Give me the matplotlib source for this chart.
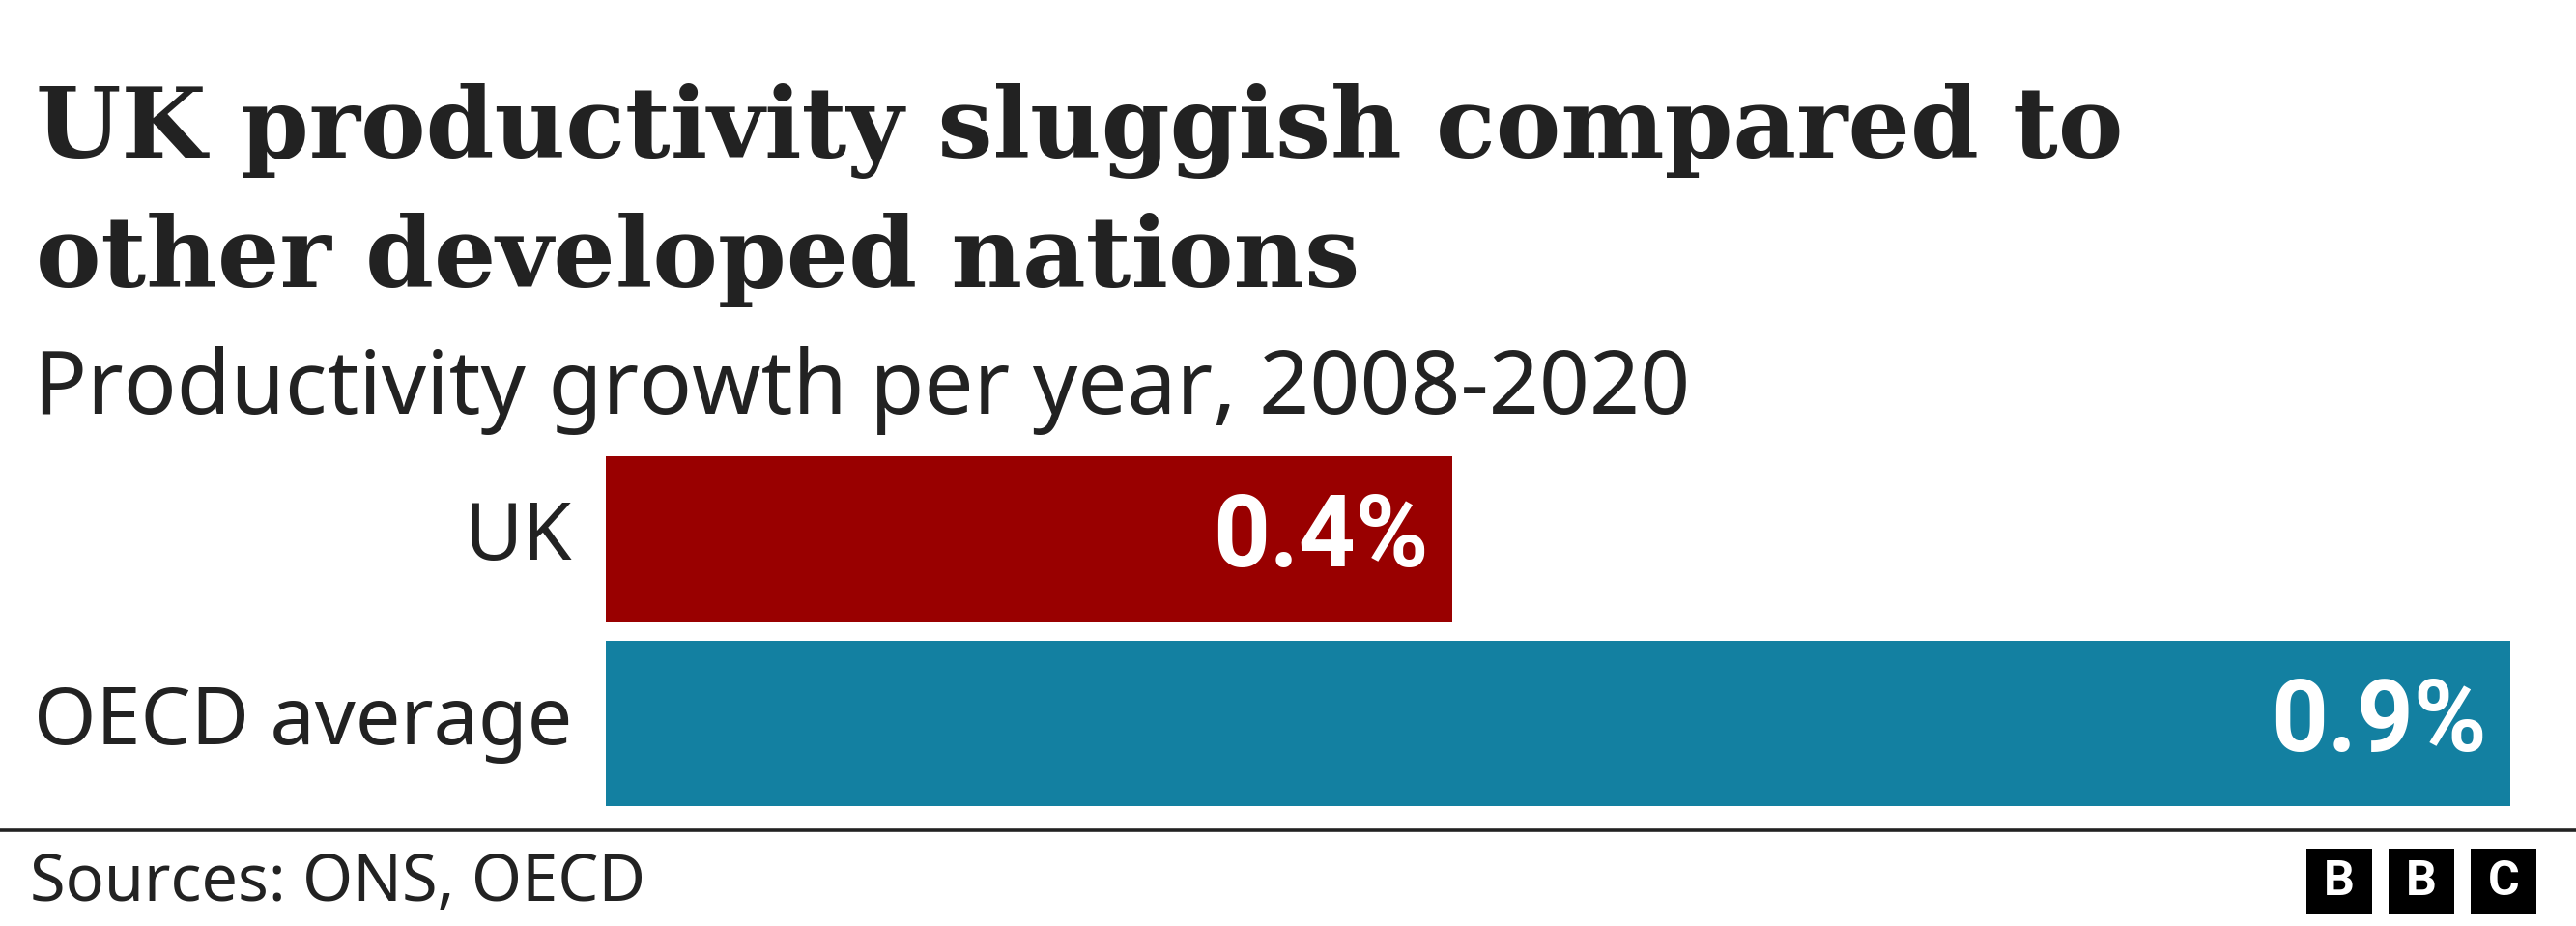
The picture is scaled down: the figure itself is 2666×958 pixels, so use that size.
import matplotlib
matplotlib.use("Agg")
import matplotlib.pyplot as plt
from matplotlib.patches import Rectangle
from matplotlib.lines import Line2D

# data
categories = ["UK", "OECD average"]
growth = [0.4, 0.9]
value_labels = ["0.4%", "0.9%"]
bar_colors = ["#990000", "#1380a1"]

title_lines = ["UK productivity sluggish compared to", "other developed nations"]
subtitle = "Productivity growth per year, 2008-2020"
source = "Sources: ONS, OECD"

W, H = 2666, 958
fig = plt.figure(figsize=(W / 100, H / 100), dpi=100)
fig.patch.set_facecolor("white")

def fx(px):
    return px / W

def fy(py):
    return 1 - py / H

# title + subtitle
for line, base in zip(title_lines, [163, 297]):
    fig.text(fx(37), fy(base), line, family="DejaVu Serif",
             weight="bold", fontsize=73, color="#222222", va="baseline", ha="left")
fig.text(fx(35), fy(428), subtitle, family="Noto Sans", fontsize=65.5,
         color="#222222", va="baseline", ha="left")

# bars
ax = fig.add_axes([fx(627), fy(834), fx(2598) - fx(627), (834 - 472) / H])
ypos = list(range(len(categories)))
bh = 171 / 191
ax.barh(ypos, growth, height=bh, color=bar_colors)
ax.set_xlim(0, max(growth))
ax.set_ylim(-bh / 2, len(categories) - 1 + bh / 2)
ax.invert_yaxis()
ax.axis("off")

for y, v, lab, cat in zip(ypos, growth, value_labels, categories):
    ax.annotate(lab, xy=(v, y), xytext=(-24, 0), textcoords="offset pixels",
                ha="right", va="center", family="Roboto", weight="bold",
                fontsize=74, color="white")
    ax.annotate(cat, xy=(0, y), xytext=(-35, 0), textcoords="offset pixels",
                ha="right", va="center", family="Noto Sans",
                fontsize=59.5, color="#222222")

# footer line
fig.add_artist(Line2D([0, 1], [fy(859), fy(859)], color="#222222", lw=2.6))
fig.text(fx(31), fy(932), source, family="Noto Sans", fontsize=48,
         color="#222222", va="baseline", ha="left")

# BBC blocks
for i, letter in enumerate("BBC"):
    x0 = 2387 + i * 85
    fig.add_artist(Rectangle((fx(x0), fy(946)), fx(68), 68 / H,
                             facecolor="black", edgecolor="none"))
    fig.text(fx(x0 + 34), fy(912), letter, family="Roboto", weight="bold",
             fontsize=36, color="white", ha="center", va="center")

fig.savefig("out.png", dpi=100, facecolor="white")
